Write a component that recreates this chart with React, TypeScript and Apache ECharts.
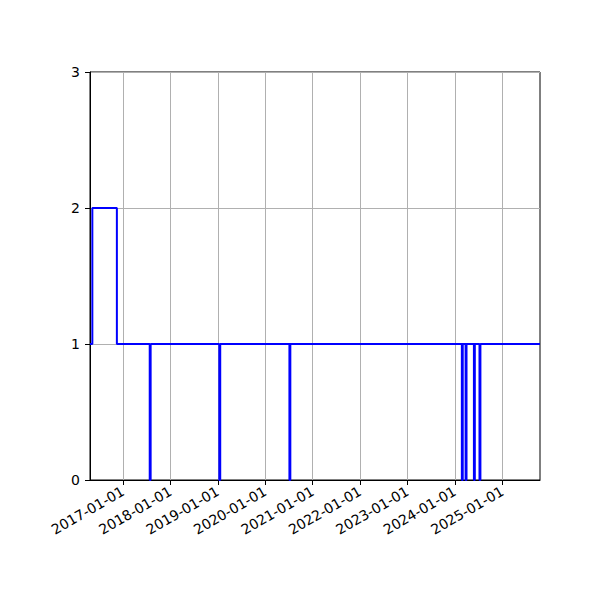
import React, { useEffect, useRef } from "react";
import * as echarts from "echarts";

// step series (steps-post): value holds from its date until the next date
const dates = [
  "2016-04-22", "2016-05-10", "2016-11-15",
  "2017-07-26", "2017-08-02",
  "2019-01-13", "2019-01-20",
  "2020-07-06", "2020-07-13",
  "2024-02-24", "2024-03-02",
  "2024-03-24", "2024-03-31",
  "2024-05-27", "2024-06-03",
  "2024-07-09", "2024-07-16",
  "2025-10-18",
];
const values = [1, 2, 1, 0, 1, 0, 1, 0, 1, 0, 1, 0, 1, 0, 1, 0, 1, 1];

const tickDates = [
  "2017-01-01", "2018-01-01", "2019-01-01", "2020-01-01", "2021-01-01",
  "2022-01-01", "2023-01-01", "2024-01-01", "2025-01-01",
];
const yTicks = [0, 1, 2, 3];

const ts = (s: string) => {
  const [y, m, d] = s.split("-").map(Number);
  return Date.UTC(y, m - 1, d);
};
const pad = (n: number) => (n < 10 ? "0" + n : "" + n);
const fmt = (v: number) => {
  const d = new Date(v);
  return `${d.getUTCFullYear()}-${pad(d.getUTCMonth() + 1)}-${pad(d.getUTCDate())}`;
};

export default function App() {
  const ref = useRef<HTMLDivElement>(null);
  useEffect(() => {
    if (!ref.current) return;
    const chart = echarts.init(ref.current, null, { renderer: "svg" });
    const font = "DejaVu Sans";
    const tickVals = tickDates.map(ts);
    chart.setOption({
      animation: false,
      backgroundColor: "#ffffff",
      grid: {
        left: 90,
        right: 60,
        top: 72,
        bottom: 120,
        show: true,
        borderColor: "#000000",
        borderWidth: 1,
        backgroundColor: "transparent",
      },
      xAxis: {
        type: "value",
        min: ts(dates[0]),
        max: ts(dates[dates.length - 1]),
        axisLine: { show: true, onZero: false, lineStyle: { color: "#000", width: 1 } },
        axisTick: {
          show: true,
          length: 5,
          customValues: tickVals,
          lineStyle: { color: "#000", width: 1 },
        },
        axisLabel: {
          show: true,
          customValues: tickVals,
          formatter: (v: number) => fmt(v),
          rotate: 30,
          margin: 10,
          color: "#000",
          fontSize: 14,
          fontFamily: font,
          hideOverlap: false,
        },
        splitLine: { show: true, lineStyle: { color: "#b0b0b0", width: 1 } },
      },
      yAxis: {
        type: "value",
        min: 0,
        max: 3,
        interval: 1,
        axisLine: { show: true, lineStyle: { color: "#000", width: 1 } },
        axisTick: { show: true, length: 5, lineStyle: { color: "#000", width: 1 } },
        axisLabel: {
          color: "#000",
          fontSize: 14,
          fontFamily: font,
          margin: 10,
          formatter: (v: number) => (yTicks.includes(v) ? String(v) : ""),
        },
        splitLine: { show: true, lineStyle: { color: "#b0b0b0", width: 1 } },
      },
      series: [
        {
          type: "line",
          step: "end",
          data: dates.map((d, i) => [ts(d), values[i]]),
          showSymbol: false,
          symbol: "none",
          lineStyle: { color: "#0000ff", width: 2 },
          itemStyle: { color: "#0000ff" },
          z: 3,
        },
      ],
    });
    return () => chart.dispose();
  }, []);
  return (
    <div
      ref={ref}
      style={{ position: "absolute", left: 0, top: 0, width: 600, height: 600 }}
    />
  );
}
